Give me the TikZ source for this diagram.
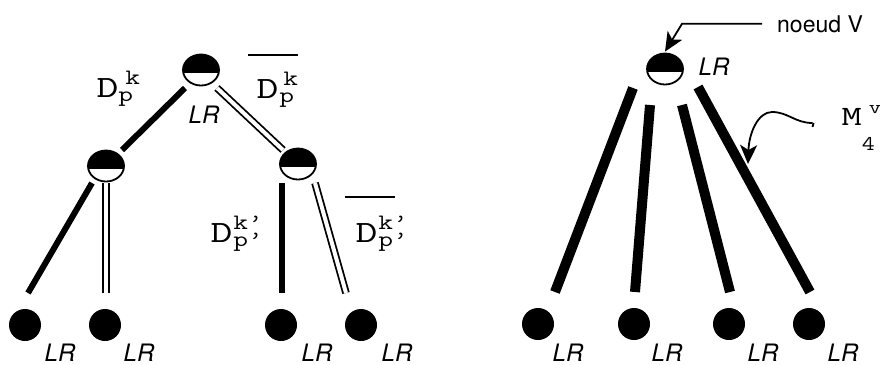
\documentclass[tikz,border=0pt]{standalone}
\usepackage{fontspec}
\usepackage{graphicx}
\usetikzlibrary{shapes.geometric,arrows.meta}
\newfontfamily\helv{TeX Gyre Heros}
% D label: #1 sup, #2 sub, #3 sup kern, #4 sub kern
\newcommand\Dlab[4]{%
  \scalebox{1.37}[1]{\fontsize{31}{31}\selectfont\ttfamily D}%
  \rlap{\kern#3\raisebox{13pt}{\scalebox{1.3}[1]{\fontsize{22}{22}\selectfont\ttfamily #1}}}%
  \kern#4\raisebox{-4pt}{\scalebox{1.3}[1]{\fontsize{22}{22}\selectfont\ttfamily #2}}}
\newcommand\Mlab{%
  \scalebox{1.4}[1]{\fontsize{28}{28}\selectfont\ttfamily M}%
  \rlap{\kern7pt\raisebox{12pt}{\scalebox{1.3}[1]{\fontsize{18.5}{18.5}\selectfont\ttfamily v}}}%
  \raisebox{-25pt}{\scalebox{1.2}[1]{\fontsize{21}{21}\selectfont\ttfamily 4}}}
\begin{document}
\begin{tikzpicture}[x=1pt,y=-1pt,
  half/.style={ellipse, minimum width=36pt, minimum height=31pt, inner sep=0pt,
    draw=black, line width=1.8pt, fill=white,
    path picture={\fill[black] (path picture bounding box.north west) rectangle ([yshift=-2.5pt]path picture bounding box.east);}},
  leaf/.style={circle, fill=black, minimum size=32pt, inner sep=0pt},
  thk/.style={line width=6pt},
  dbl/.style={line width=1.8pt, double=white, double distance=4pt},
  bar/.style={line width=10pt},
  lr/.style={font=\helv\itshape\fontsize{24}{24}\selectfont, inner sep=0pt},
  lab/.style={anchor=base west, inner sep=0pt},
  thinline/.style={line width=1.8pt},
  bigtip/.style={-{Stealth[length=19pt,width=17pt,inset=5pt]}}]
\useasboundingbox (0,0) rectangle (880,364);
% ---------------- left tree
\node[half] (r) at (201,70) {};
\node[half] (lc) at (106,166) {};
\node[half] (rc) at (298,164) {};
\node[leaf] (l1) at (25,325) {};
\node[leaf] (l2) at (105,325) {};
\node[leaf] (l3) at (281,325) {};
\node[leaf] (l4) at (361,325) {};
\draw[thk] ([shift={(-16,18)}]r.center) -- ([shift={(16,-16)}]lc.center);
\draw[dbl] ([shift={(16,18)}]r.center) -- ([shift={(-15,-14)}]rc.center);
\draw[thk] ([shift={(-14,17)}]lc.center) -- ([shift={(3,-32)}]l1.center);
\draw[dbl] ([shift={(0,17)}]lc.center) -- ([shift={(1,-32)}]l2.center);
\draw[thk] ([shift={(-16,19)}]rc.center) -- ([shift={(1,-32)}]l3.center);
\draw[dbl] ([shift={(17,19)}]rc.center) -- ([shift={(-15,-32)}]l4.center);
\node[lr] (lrr) at (204,115) {LR};
\node[lr] (lr1) at (60,353) {LR};
\node[lr] (lr2) at (139,353) {LR};
\node[lr] (lr3) at (317,353) {LR};
\node[lr] (lr4) at (397,353) {LR};
\node[lab] (d1) at (96.3,97) {\Dlab{k}{p}{7pt}{0pt}};
\node[lab] (d2) at (256.3,98) {\Dlab{k}{p}{5pt}{1pt}};
\node[lab] (d3) at (210.3,242) {\Dlab{k’}{p’}{1pt}{1pt}};
\node[lab] (d4) at (355.3,242) {\Dlab{k’}{p’}{1pt}{1pt}};
\draw[thinline] ([shift={(-8,-43)}]d2.base west) -- ++(50,0);
\draw[thinline] ([shift={(-10,-45)}]d4.base west) -- ++(50,0);
% ---------------- right tree
\node[half] (rv) at (665,69) {};
\node[leaf] (m1) at (538,324) {};
\node[leaf] (m2) at (634,324) {};
\node[leaf] (m3) at (729,324) {};
\node[leaf] (m4) at (809,324) {};
\draw[bar] ([shift={(-32,19)}]rv.center) -- ([shift={(17,-32)}]m1.center);
\draw[bar] ([shift={(-15,36)}]rv.center) -- ([shift={(1,-32)}]m2.center);
\draw[bar] ([shift={(17,36)}]rv.center) -- ([shift={(1,-32)}]m3.center);
\draw[bar] ([shift={(33,18)}]rv.center) -- ([shift={(1,-32)}]m4.center);
\node[lr] (lrv) at (714,66.5) {LR};
\node[lr] (lm1) at (568,353) {LR};
\node[lr] (lm2) at (667,353) {LR};
\node[lr] (lm3) at (763,353) {LR};
\node[lr] (lm4) at (843,353) {LR};
\node[lab, font=\helv\fontsize{23}{23}\selectfont] (nv) at (777,32) {noeud V};
\draw[thinline, bigtip] ([xshift=-15pt]nv.west) -- ++(-80,0) -- ([yshift=1pt]rv.north);
\node[lab] (mv) at (841.5,125) {\Mlab};
\coordinate (mt) at (748,164);
\draw[thinline] ([shift={(-29,2)}]mv.base west) -- ++(1,-4);
\draw[thinline, bigtip] ([shift={(-29,-2)}]mv.base west) .. controls (795,123) and (788,112) .. (772,112)
   .. controls (758,112) and (749,133) .. (mt);
\end{tikzpicture}
\end{document}
